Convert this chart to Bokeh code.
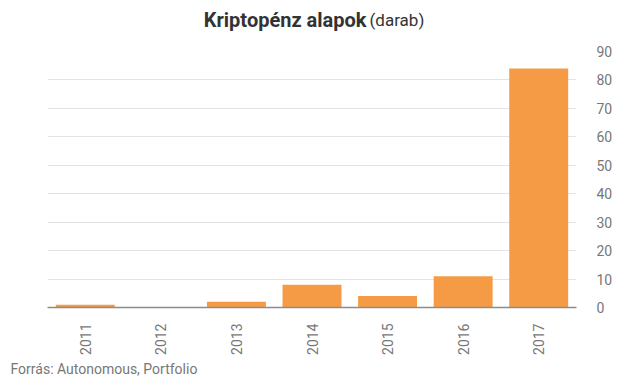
from bokeh.plotting import figure
from bokeh.layouts import column
from bokeh.models import FactorRange, Range1d, LinearAxis, Label, FixedTicker, ColumnDataSource
from bokeh.embed import file_html
from bokeh.resources import INLINE

years = ["2011", "2012", "2013", "2014", "2015", "2016", "2017"]
counts = [1, 0, 2, 8, 4, 11, 84]
y_ticks = [0, 10, 20, 30, 40, 50, 60, 70, 80, 90]
title_bold = "Kriptopénz alapok"
title_normal = "(darab)"
source_text = "Forrás: Autonomous, Portfolio"

FONT = "Roboto"
GREY = "#777777"
W = 633


def text_strip(h):
    f = figure(width=W, height=h, x_range=Range1d(0, W), y_range=Range1d(0, h),
               output_backend="svg", toolbar_location=None, frame_align=False,
               title=None,
               min_border=0, min_border_left=0, min_border_right=0,
               min_border_top=0, min_border_bottom=0,
               x_axis_location=None, y_axis_location=None)
    f.outline_line_color = None
    f.xgrid.visible = False
    f.ygrid.visible = False
    return f


# header with the title
head = text_strip(36)
head.add_layout(Label(x=366, y=17, text=title_bold,
                      text_font=FONT, text_font_style="bold", text_font_size="20px",
                      text_color="#333333", text_align="right", text_baseline="alphabetic"))
head.add_layout(Label(x=369, y=17, text=title_normal,
                      text_font=FONT, text_font_size="17px",
                      text_color="#333333", text_align="left", text_baseline="alphabetic"))

# main chart
src = ColumnDataSource(dict(year=years, count=counts))
p = figure(width=W, height=322, x_range=FactorRange(*years, range_padding=0),
           y_range=Range1d(0, 90), output_backend="svg", toolbar_location=None,
           frame_align=False, title=None,
           min_border_left=47, min_border_right=57, min_border_top=15, min_border_bottom=51,
           y_axis_location=None)
p.outline_line_color = None

p.vbar(x="year", top="count", width=0.78, source=src, color="#F59B45", line_color=None)

yaxis = LinearAxis(ticker=FixedTicker(ticks=y_ticks))
yaxis.axis_line_color = None
yaxis.major_tick_line_color = None
yaxis.minor_tick_line_color = None
yaxis.major_label_text_font = FONT
yaxis.major_label_text_font_size = "14px"
yaxis.major_label_text_color = GREY
yaxis.major_label_standoff = 14
p.add_layout(yaxis, "right")

p.ygrid.ticker = FixedTicker(ticks=y_ticks)
p.ygrid.grid_line_color = "#e3e3e3"
p.xgrid.grid_line_color = None

xa = p.xaxis[0]
xa.axis_line_color = "#8c8c8c"
xa.axis_line_width = 1.5
xa.major_tick_line_color = None
xa.minor_tick_line_color = None
xa.major_label_orientation = 1.5708
xa.major_label_text_font = FONT
xa.major_label_text_font_size = "14px"
xa.major_label_text_color = GREY
xa.major_label_standoff = 10

# footer with the source
foot = text_strip(20)
foot.add_layout(Label(x=10, y=10, text=source_text,
                      text_font=FONT, text_font_size="14px",
                      text_color=GREY, text_align="left", text_baseline="alphabetic"))

layout = column(head, p, foot, spacing=0)
open("out.html", "w").write(file_html(layout, INLINE))
